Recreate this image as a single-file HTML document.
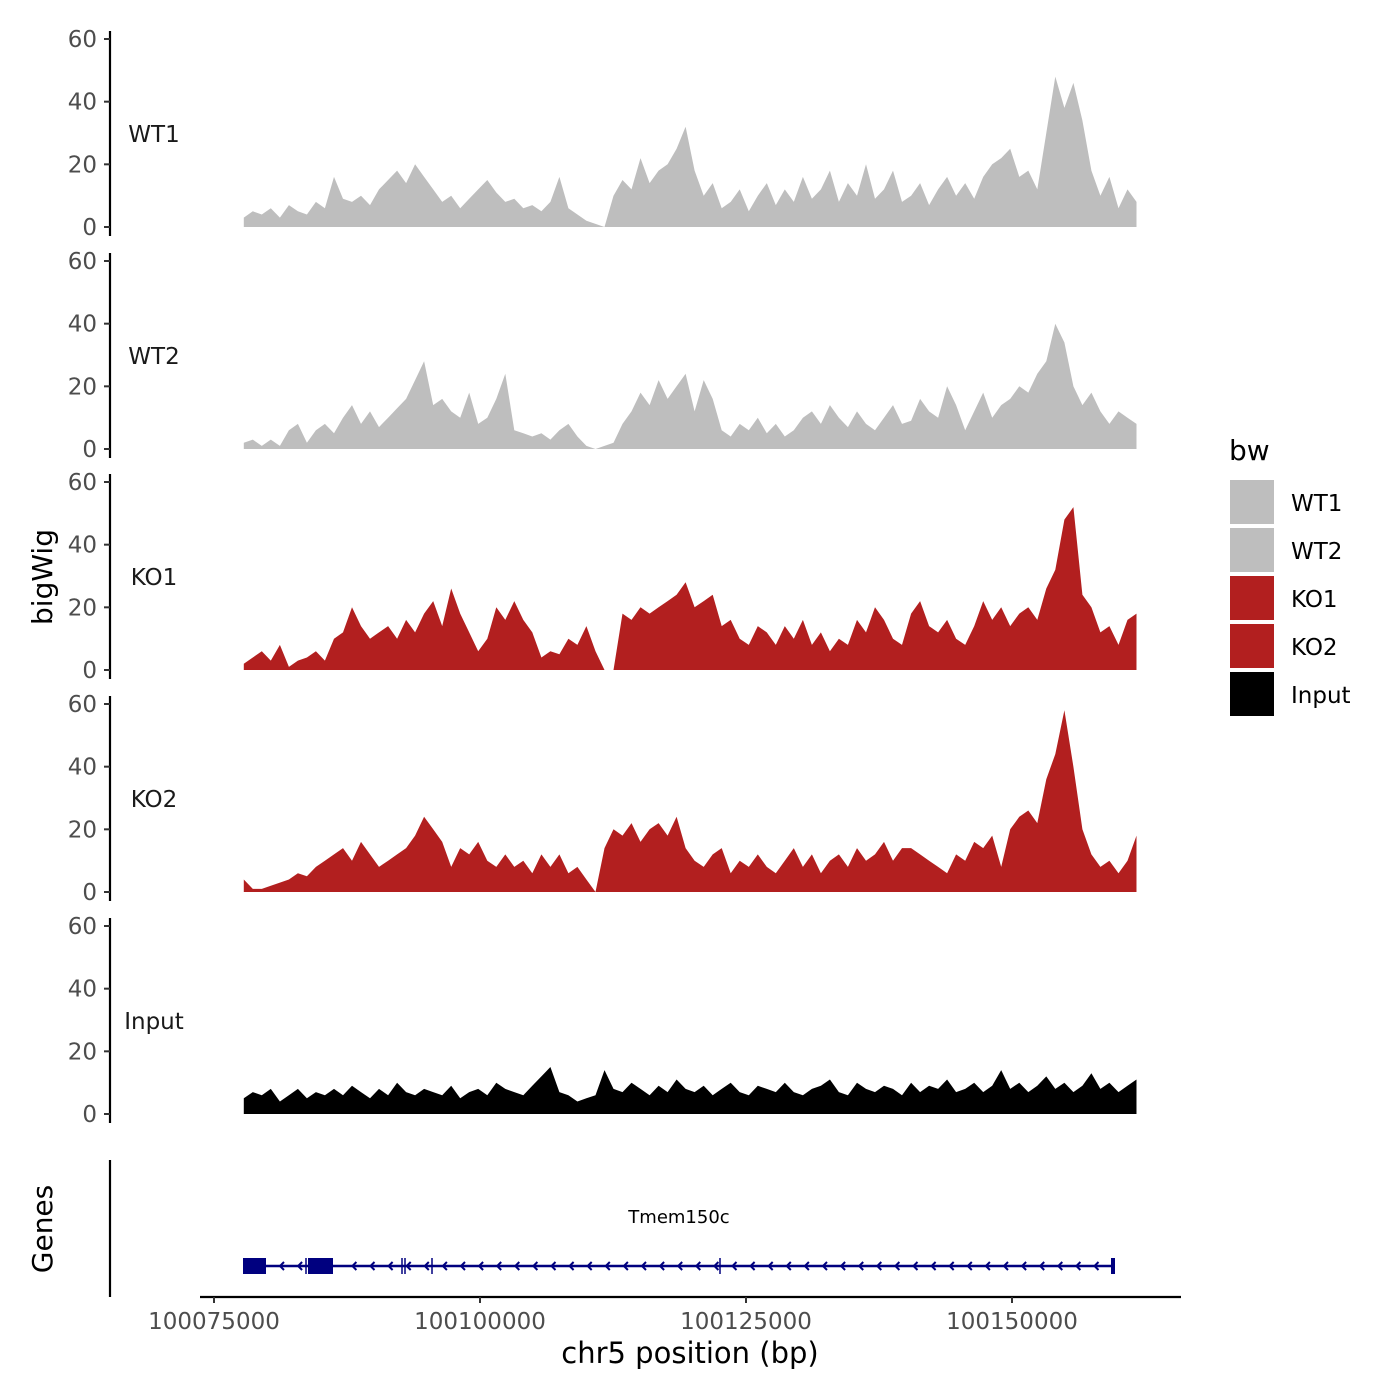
<!DOCTYPE html>
<html><head><meta charset="utf-8"><style>
body{margin:0;background:#fff}
svg{display:block;font-family:"DejaVu Sans","Liberation Sans",sans-serif}
</style></head><body>
<svg id="chart" width="1400" height="1400" viewBox="0 0 1400 1400">
<rect width="1400" height="1400" fill="#fff"/>
</svg>
<script>
const trackNames = ["WT1","WT2","KO1","KO2","Input"];
const trackColors = ["#bebebe","#bebebe","#b21f1f","#b21f1f","#000000"];
const yTicks = [0,20,40,60];
const xTicks = [100075000,100100000,100125000,100150000];
const wt1 = [3,5,4,6,3,7,5,4,8,6,16,9,8,10,7,12,15,18,14,20,16,12,8,10,6,9,12,15,11,8,9,6,7,5,8,16,6,4,2,1,0,10,15,12,22,14,18,20,25,32,18,10,14,6,8,12,5,10,14,7,12,8,16,9,12,18,8,14,10,20,9,12,18,8,10,14,7,12,16,10,14,9,16,20,22,25,16,18,12,30,48,38,46,34,18,10,16,6,12,8];
const wt2 = [2,3,1,3,1,6,8,2,6,8,5,10,14,8,12,7,10,13,16,22,28,14,16,12,10,18,8,10,16,24,6,5,4,5,3,6,8,4,1,0,1,2,8,12,18,14,22,16,20,24,12,22,16,6,4,8,6,10,5,8,4,6,10,12,8,14,10,7,12,8,6,10,14,8,9,16,12,10,20,14,6,12,18,10,14,16,20,18,24,28,40,34,20,14,18,12,8,12,10,8];
const ko1 = [2,4,6,3,8,1,3,4,6,3,10,12,20,14,10,12,14,10,16,12,18,22,14,26,18,12,6,10,20,16,22,16,12,4,6,5,10,8,14,6,0,0,18,16,20,18,20,22,24,28,20,22,24,14,16,10,8,14,12,8,14,10,16,8,12,6,10,8,16,12,20,16,10,8,18,22,14,12,16,10,8,14,22,16,20,14,18,20,16,26,32,48,52,24,20,12,14,8,16,18];
const ko2 = [4,1,1,2,3,4,6,5,8,10,12,14,10,16,12,8,10,12,14,18,24,20,16,8,14,12,16,10,8,12,8,10,6,12,8,12,6,8,4,0,14,20,18,22,16,20,22,18,24,14,10,8,12,14,6,10,8,12,8,6,10,14,8,12,6,10,12,8,14,10,12,16,10,14,14,12,10,8,6,12,10,16,14,18,8,20,24,26,22,36,44,58,40,20,12,8,10,6,10,18];
const input = [5,7,6,8,4,6,8,5,7,6,8,6,9,7,5,8,6,10,7,6,8,7,6,9,5,7,8,6,10,8,7,6,9,12,15,7,6,4,5,6,14,8,7,10,8,6,9,7,11,8,7,9,6,8,10,7,6,9,8,7,10,7,6,8,9,11,7,6,10,8,7,9,8,6,10,7,9,8,11,7,8,10,7,9,14,8,10,7,9,12,8,10,7,9,13,8,10,7,9,11];
const series = [wt1,wt2,ko1,ko2,input];
const dataStart = 100077800, dataEnd = 100161700;

const NS="http://www.w3.org/2000/svg";
const svg=document.getElementById('chart');
function mk(tag,attrs,parent){const e=document.createElementNS(NS,tag);for(const k in attrs)e.setAttribute(k,attrs[k]);(parent||svg).appendChild(e);return e;}
function xPos(bp){return 214+(bp-100075000)*(266/25000);}
const base=[227,449,670,892,1114];
function yPos(i,v){return base[i]-v*188/60;}

series.forEach((vals,i)=>{
  const g=mk('g',{});
  
  
  let d='M'+xPos(dataStart)+','+base[i];
  vals.forEach((v,j)=>{const bp=dataStart+(dataEnd-dataStart)*j/(vals.length-1);d+=' L'+xPos(bp).toFixed(1)+','+yPos(i,v).toFixed(1);});
  d+=' L'+xPos(dataEnd)+','+base[i]+' Z';
  const p=mk('path',{d:d,fill:trackColors[i]},g);
  
  
  const ax=mk('line',{x1:110,x2:110,y1:base[i]-196,y2:base[i]+9,stroke:'#000','stroke-width':2.2},g);
  
  
  yTicks.forEach(t=>{
    const y=yPos(i,t);
    mk('line',{x1:104,x2:110,y1:y,y2:y,stroke:'#333','stroke-width':2},g);
    const tx=mk('text',{x:97,y:y+8,'text-anchor':'end','font-size':23,fill:'#4d4d4d'},g);
    tx.textContent=t;
    
    
  });
  const lb=mk('text',{x:154,y:base[i]-85,'text-anchor':'middle','font-size':23,fill:'#1a1a1a'},g);
  lb.textContent=trackNames[i];
  
  
});
</script>
<script>
(function(){
const NS="http://www.w3.org/2000/svg";
const svg=document.getElementById('chart');
function mk(tag,attrs,parent){const e=document.createElementNS(NS,tag);for(const k in attrs)e.setAttribute(k,attrs[k]);(parent||svg).appendChild(e);return e;}
const gg=mk('g',{});


mk('line',{x1:110,x2:110,y1:1160,y2:1297,stroke:'#000','stroke-width':2.2},gg);
mk('line',{x1:244,x2:1115,y1:1266,y2:1266,stroke:'#00007f','stroke-width':2.5},gg);
mk('rect',{x:243,y:1258,width:23,height:16,fill:'#00007f'},gg);
mk('rect',{x:308,y:1258,width:25,height:16,fill:'#00007f'},gg);
[306,402,405,432,720,1113].forEach(x=>mk('line',{x1:x,x2:x,y1:1258,y2:1274,stroke:'#00007f','stroke-width':1.5},gg));
mk('rect',{x:1111,y:1258,width:4,height:16,fill:'#00007f'},gg);
for(let x=280;x<1110;x+=18.1){if(x>300&&x<340)continue;mk('path',{d:`M${x+4},${1262} L${x},${1266} L${x+4},${1270}`,fill:'none',stroke:'#00007f','stroke-width':2},gg);}
const gl=mk('text',{x:679,y:1223,'text-anchor':'middle','font-size':18,fill:'#000'},gg);
gl.textContent='Tmem150c';


const gt=mk('text',{x:0,y:0,'text-anchor':'middle','font-size':28,fill:'#000',transform:'translate(52,1229) rotate(-90)'});
gt.textContent='Genes';


const bt=mk('text',{x:0,y:0,'text-anchor':'middle','font-size':28,fill:'#000',transform:'translate(52,577) rotate(-90)'});
bt.textContent='bigWig';


const xa=mk('g',{});


mk('line',{x1:200,x2:1181,y1:1297,y2:1297,stroke:'#000','stroke-width':2.2},xa);
xTicks.forEach(t=>{const x=214+(t-100075000)*(266/25000);
  mk('line',{x1:x,x2:x,y1:1297,y2:1303,stroke:'#333','stroke-width':2},xa);
  const tx=mk('text',{x:x,y:1329,'text-anchor':'middle','font-size':23,fill:'#4d4d4d'},xa);
  tx.textContent=t;
  
  
});
const xt=mk('text',{x:690,y:1363,'text-anchor':'middle','font-size':29,fill:'#000'});
xt.textContent='chr5 position (bp)';


const lg=mk('g',{});


const lt=mk('text',{x:1229,y:460,'font-size':28,fill:'#000'},lg);
lt.textContent='bw';
trackNames.forEach((n,i)=>{
  const y=480+i*48;
  const r=mk('rect',{x:1230,y:y,width:44,height:44,fill:trackColors[i]},lg);
  
  
  const t=mk('text',{x:1291,y:y+31,'font-size':23,fill:'#000'},lg);
  t.textContent=n;
  
  
});
})();
</script>
</body></html>
